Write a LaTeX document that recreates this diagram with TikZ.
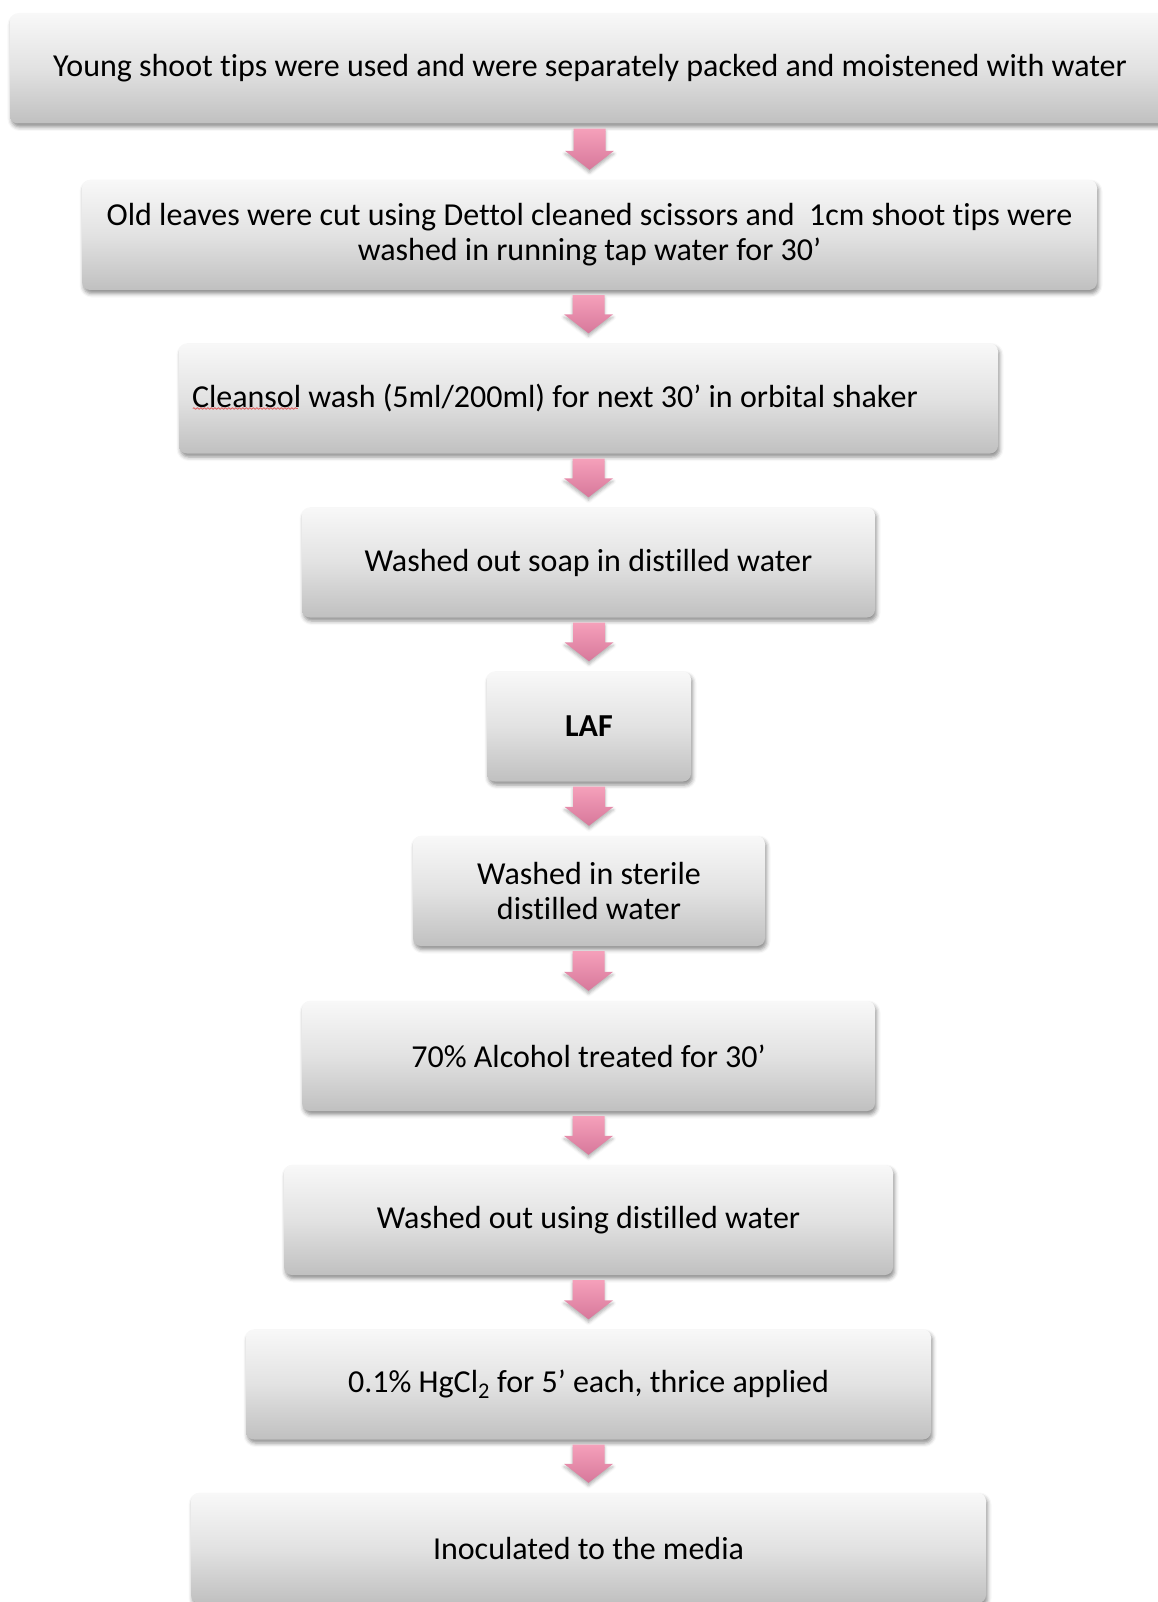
\documentclass[tikz,border=0pt]{standalone}
\usepackage{fontspec}
\setmainfont{Carlito}[Ligatures={NoCommon}]
\usetikzlibrary{calc,shadows.blur,decorations.pathmorphing}
\definecolor{boxtop}{HTML}{F8F8F8}
\definecolor{boxmid}{HTML}{E2E2E2}
\definecolor{boxbot}{HTML}{C0C0C0}
\definecolor{arrtop}{HTML}{F5A0BA}
\definecolor{arrbot}{HTML}{D7789B}
\definecolor{squig}{HTML}{E06060}
\tikzset{
  stepbox/.style={rounded corners=8pt, inner sep=0pt, minimum height=110pt,
    top color=boxtop, bottom color=boxbot, middle color=boxmid,
    blur shadow={shadow xshift=1.5pt, shadow yshift=-3.5pt, shadow blur radius=4pt, shadow opacity=45},
    font=\fontsize{32}{35}\selectfont, align=center},
  pinkarrow/.style={top color=arrtop, bottom color=arrbot,
    blur shadow={shadow xshift=0pt, shadow yshift=-3pt, shadow blur radius=3pt, shadow opacity=30}}
}
\begin{document}
\begin{tikzpicture}[x=1pt,y=-1pt]
\useasboundingbox (0,0) rectangle (1158,1602);
\node[stepbox, minimum width=1160pt] (n1) at (590,68.5) {Young shoot tips were used and were separately packed and moistened with water};
\node[stepbox, minimum width=1015pt] (n2) at (589.5,235) {Old leaves were cut using Dettol cleaned scissors and\ \ 1cm shoot tips were\\washed in running tap water for 30’};
\node[stepbox, minimum width=819pt] (n3) at (588.5,398.5) {\makebox[793pt][l]{Cleansol wash (5ml/200ml) for next 30’ in orbital shaker}};
\node[stepbox, minimum width=573pt] (n4) at (588.5,562.5) {Washed out soap in distilled water};
\node[stepbox, minimum width=204pt] (n5) at (589,726.5) {\bfseries LAF};
\node[stepbox, minimum width=352pt] (n6) at (589,891) {Washed in sterile\\distilled water};
\node[stepbox, minimum width=573pt] (n7) at (588.5,1056) {70\% Alcohol treated for 30’};
\node[stepbox, minimum width=609pt] (n8) at (588.5,1220) {Washed out using distilled water};
\node[stepbox, minimum width=685pt] (n9) at (588.5,1384.5) {0.1\% HgCl$_{\mathrm{2}}$ for 5’ each, thrice applied};
\node[stepbox, minimum width=795pt] (n10) at (588.5,1548) {Inoculated to the media};
\draw[squig, line width=0.9pt, decorate, decoration={snake, amplitude=0.7pt, segment length=3.5pt}]
  ($(n3.west)+(14,10)$) coordinate (sq1) -- ($(n3.west)+(119,10)$) coordinate (sq2);
\foreach \a/\b in {n1/n2,n2/n3,n3/n4,n4/n5,n5/n6,n6/n7,n7/n8,n8/n9,n9/n10}{
  \path[pinkarrow] let \p1=(\a.south), \p2=(\b.north) in
    ({\x2-16pt},{\y1-5pt}) -- ({\x2+16pt},{\y1-5pt}) -- ({\x2+16pt},{\y2+29pt})
    -- ({\x2+24.5pt},{\y2+29pt}) -- ({\x2},{\y2+10pt}) -- ({\x2-24.5pt},{\y2+29pt})
    -- ({\x2-16pt},{\y2+29pt}) -- cycle;
}
\end{tikzpicture}
\end{document}
